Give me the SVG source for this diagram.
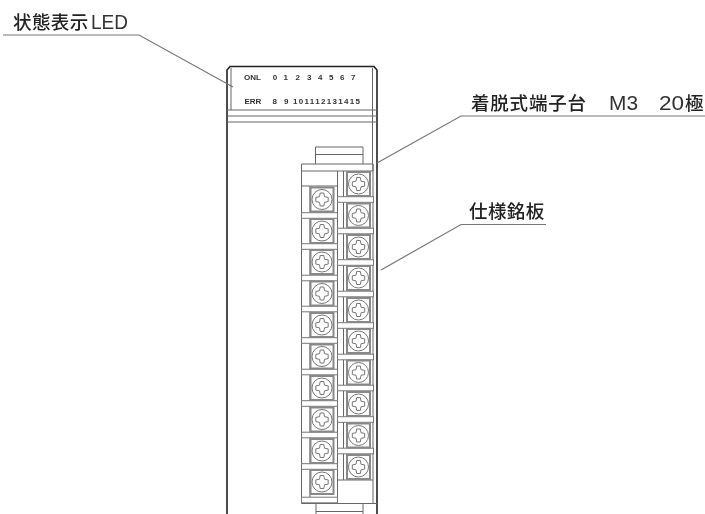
<svg xmlns="http://www.w3.org/2000/svg" xmlns:xlink="http://www.w3.org/1999/xlink" width="705" height="514" viewBox="0 0 705 514">
<style>
.l{fill:none;stroke:#666;stroke-width:1}
.h{fill:none;stroke:#222;stroke-width:1.6}
.c{fill:none;stroke:#777;stroke-width:1.2}
.t{font-family:"Noto Sans CJK JP",sans-serif;font-size:18.500px;font-weight:500;fill:#222}
.a{font-family:"Liberation Sans",sans-serif;font-size:20px;fill:#333}
.s{font-family:"Liberation Sans",sans-serif;font-size:8px;font-weight:700;fill:#333}
</style>
<defs>
<filter id="b" x="0" y="0" width="1" height="1"><feGaussianBlur stdDeviation="0.45"/></filter>
<g id="screw">
<rect x="-11.500" y="-12" width="23" height="24" fill="#fff" stroke="#888" stroke-width="2"/>
<circle r="10" fill="#fff" stroke="#777" stroke-width="1"/>
<path d="M-1.800-6.500h3.600l.7 3.700 3.700.7v4.200l-3.700.7-.7 3.700h-3.600l-.7-3.700-3.700-.7v-4.200l3.700-.7z" fill="#fff" stroke="#777" stroke-width="1"/>
</g>
<rect id="bar" x="-18" y="-2.800" width="36" height="5.600" fill="#fff" stroke="#777" stroke-width="1"/>
</defs>
<rect width="705" height="514" fill="#fff"/>
<g filter="url(#b)">
<g id="module">
<path class="h" d="M227 514V70l3-3.500H374l3 3.500V514"/>
<path class="l" d="M231 68V110M372.500 68V164M227 110H377M227 116H377M227 122H377"/>
<path class="l" d="M373 164V504"/>
</g>
<g id="led-panel">
<text class="s" x="244" y="80">ONL</text>
<text class="s" x="272.800" y="80">0</text><text class="s" x="283.400" y="80">1</text><text class="s" x="295.400" y="80">2</text><text class="s" x="307" y="80">3</text><text class="s" x="318" y="80">4</text><text class="s" x="329" y="80">5</text><text class="s" x="340" y="80">6</text><text class="s" x="351" y="80">7</text>
<text class="s" x="244.500" y="104">ERR</text>
<text class="s" x="272.500" y="104">8</text><text class="s" x="284" y="104">9</text>
<text class="s" x="293" y="104" textLength="67" lengthAdjust="spacing">101112131415</text>
</g>
<g id="terminal-block">
<path class="l" d="M315.500 164V147H363V164M315.500 154.500H363"/>
<path class="l" d="M301.500 164H373V171H301.500ZM301.500 171V503.500H377M337.500 171V186H301.500M310 186V497M337.500 186V497M343.500 171V480M337.500 480H373"/>
<path class="l" d="M316 504V514M363 504V514M316 511.500H363"/>
<g id="bars-left">
<use xlink:href="#bar" href="#bar" x="319.500" y="215.500"/><use xlink:href="#bar" href="#bar" x="319.500" y="246.500"/><use xlink:href="#bar" href="#bar" x="319.500" y="278"/><use xlink:href="#bar" href="#bar" x="319.500" y="309"/><use xlink:href="#bar" href="#bar" x="319.500" y="340.500"/><use xlink:href="#bar" href="#bar" x="319.500" y="372"/><use xlink:href="#bar" href="#bar" x="319.500" y="403.500"/><use xlink:href="#bar" href="#bar" x="319.500" y="435"/><use xlink:href="#bar" href="#bar" x="319.500" y="466.500"/><use xlink:href="#bar" href="#bar" x="319.500" y="500"/>
</g>
<g id="bars-right">
<use xlink:href="#bar" href="#bar" x="355.500" y="199.500"/><use xlink:href="#bar" href="#bar" x="355.500" y="231"/><use xlink:href="#bar" href="#bar" x="355.500" y="262.500"/><use xlink:href="#bar" href="#bar" x="355.500" y="294"/><use xlink:href="#bar" href="#bar" x="355.500" y="325.500"/><use xlink:href="#bar" href="#bar" x="355.500" y="357"/><use xlink:href="#bar" href="#bar" x="355.500" y="388"/><use xlink:href="#bar" href="#bar" x="355.500" y="419.500"/><use xlink:href="#bar" href="#bar" x="355.500" y="451"/>
</g>
<g id="screws-right">
<use xlink:href="#screw" href="#screw" x="358.500" y="184"/><use xlink:href="#screw" href="#screw" x="358.500" y="215.500"/><use xlink:href="#screw" href="#screw" x="358.500" y="247"/><use xlink:href="#screw" href="#screw" x="358.500" y="278"/><use xlink:href="#screw" href="#screw" x="358.500" y="310"/><use xlink:href="#screw" href="#screw" x="358.500" y="341"/><use xlink:href="#screw" href="#screw" x="358.500" y="372.500"/><use xlink:href="#screw" href="#screw" x="358.500" y="404"/><use xlink:href="#screw" href="#screw" x="358.500" y="435.500"/><use xlink:href="#screw" href="#screw" x="358.500" y="467"/>
</g>
<g id="screws-left">
<use xlink:href="#screw" href="#screw" x="322" y="199.500"/><use xlink:href="#screw" href="#screw" x="322" y="231"/><use xlink:href="#screw" href="#screw" x="322" y="262"/><use xlink:href="#screw" href="#screw" x="322" y="293.500"/><use xlink:href="#screw" href="#screw" x="322" y="325"/><use xlink:href="#screw" href="#screw" x="322" y="356.500"/><use xlink:href="#screw" href="#screw" x="322" y="388"/><use xlink:href="#screw" href="#screw" x="322" y="419.500"/><use xlink:href="#screw" href="#screw" x="322" y="451"/><use xlink:href="#screw" href="#screw" x="322" y="482"/>
</g>
</g>
<g id="connectors">
<path class="c" d="M3 35H139L233 87"/>
<path class="c" d="M705 116H461L377 163"/>
<path class="c" d="M546 224.500H461L381 270"/>
</g>
<g id="label-led"><text class="t" x="13" y="29" letter-spacing=".4">状態表示</text><text class="a" x="91" y="29" textLength="37" lengthAdjust="spacingAndGlyphs">LED</text></g>
<g id="label-terminal"><text class="t" x="471" y="110" letter-spacing=".8">着脱式端子台</text><text class="a" x="609" y="110" textLength="29" lengthAdjust="spacingAndGlyphs">M3</text><text class="a" x="659" y="110" textLength="25" lengthAdjust="spacingAndGlyphs">20</text><text class="t" x="685" y="110">極</text></g>
<g id="label-plate"><text class="t" x="469" y="218" letter-spacing=".4">仕様銘板</text></g>
</g>
</svg>
